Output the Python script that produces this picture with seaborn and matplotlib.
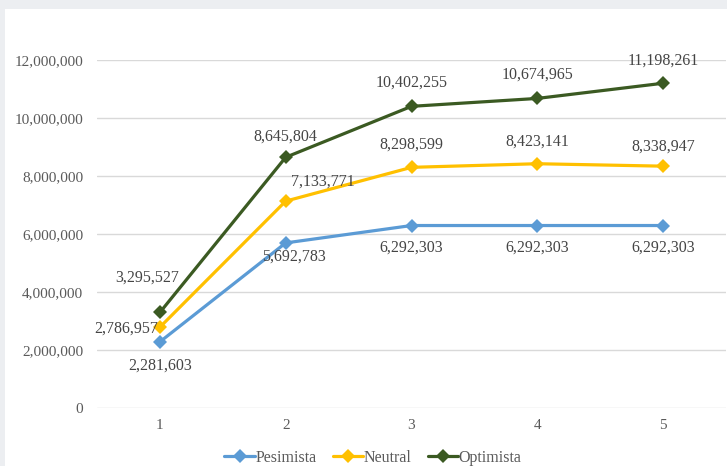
import matplotlib
matplotlib.use("Agg")
import matplotlib.pyplot as plt
from matplotlib.patches import Rectangle
import seaborn as sns
import pandas as pd

periods = [1, 2, 3, 4, 5]
pesimista = [2281603, 5692783, 6292303, 6292303, 6292303]
neutral = [2786957, 7133771, 8298599, 8423141, 8338947]
optimista = [3295527, 8645804, 10402255, 10674965, 11198261]
scenarios = ["Pesimista", "Neutral", "Optimista"]
y_ticks = [0, 2000000, 4000000, 6000000, 8000000, 10000000, 12000000]

colors = {"Pesimista": "#5b9bd5", "Neutral": "#ffc000", "Optimista": "#3b5a22"}

# label offsets in points (dx, dy) and alignment per scenario/period
label_pos = {
    "Pesimista": [(0, -17, "center"), (6, -10, "center"), (0, -16, "center"),
                  (0, -16, "center"), (0, -16, "center")],
    "Neutral": [(-1, -1, "right"), (4, 14, "left"), (0, 16, "center"),
                (0, 16, "center"), (0, 14, "center")],
    "Optimista": [(-9, 25, "center"), (0, 15, "center"), (0, 17, "center"),
                  (0, 17, "center"), (0, 16, "center")],
}

df = pd.DataFrame({
    "Periodo": periods * 3,
    "Valor": pesimista + neutral + optimista,
    "Escenario": [s for s in scenarios for _ in periods],
})

sns.set_theme(style="white")
plt.rcParams["font.family"] = ["Liberation Serif", "DejaVu Serif"]

fig = plt.figure(figsize=(7.27, 4.66), dpi=100)
fig.patch.set_facecolor("#eceef1")
panel = Rectangle((5 / 727, 0), 1, 1 - 9 / 466, transform=fig.transFigure,
                  facecolor="white", edgecolor="none", zorder=-10)
fig.add_artist(panel)
ax = fig.add_axes([97 / 727, 1 - 408 / 466, 629 / 727, (408 - 60) / 466])
ax.set_facecolor("none")

sns.lineplot(data=df, x="Periodo", y="Valor", hue="Escenario", palette=colors,
             marker="D", markersize=7, markeredgewidth=0, linewidth=2.3,
             ax=ax, zorder=3)

series = {"Pesimista": pesimista, "Neutral": neutral, "Optimista": optimista}
for name, vals in series.items():
    for x, v, (dx, dy, ha) in zip(periods, vals, label_pos[name]):
        ax.annotate(f"{v:,}", (x, v), xytext=(dx, dy), textcoords="offset points",
                    ha=ha, va="center", fontsize=11.5, color="#454545", zorder=4)

ax.set_xlim(0.5, 5.5)
ax.set_ylim(0, 12000000)
ax.set_yticks(y_ticks)
ax.set_yticklabels([f"{t:,}" for t in y_ticks])
ax.set_xticks(periods)
ax.set_xticklabels([str(p) for p in periods])
ax.tick_params(axis="both", length=0, labelsize=11, labelcolor="#5a5a5a")
ax.tick_params(axis="y", pad=10)
ax.tick_params(axis="x", pad=8)
ax.yaxis.grid(True, color="#d9d9d9", linewidth=1)
ax.set_axisbelow(True)
for s in ax.spines.values():
    s.set_visible(False)
ax.set_xlabel("")
ax.set_ylabel("")

handles, labels = ax.get_legend_handles_labels()
ax.legend(handles, labels, loc="upper center", bbox_to_anchor=(373 / 727, 1 - 442 / 466),
          bbox_transform=fig.transFigure, ncol=3, frameon=False, fontsize=11.5,
          handlelength=1.9, handletextpad=0.05, columnspacing=1.0,
          borderpad=0, labelcolor="#5a5a5a")

fig.savefig("out.png", dpi=100)
